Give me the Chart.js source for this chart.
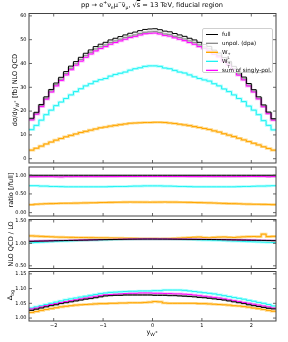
<!DOCTYPE html>
<html>
<head>
<meta charset="utf-8">
<script src="https://cdn.jsdelivr.net/npm/chart.js@4.4.1/dist/chart.umd.min.js"></script>
<style>
body { margin: 0; background: #fff; font-family: 'DejaVu Sans', sans-serif; }
#wrap { position: relative; width: 288px; height: 342px; overflow: hidden; }
canvas { position: absolute; left: 0; top: 0; }
.t { position: absolute; white-space: nowrap; color: #000; line-height: 1; }
.rot { transform: translate(-50%, -50%) rotate(-90deg); }
sub, sup { font-size: 70%; line-height: 0; }
.ss { display: inline-flex; flex-direction: column; font-size: 68%; line-height: 0.95; vertical-align: -0.4em; }
#leg { position: absolute; left: 202px; top: 28px; width: 71px; height: 45px; border: 0.8px solid #cfcfcf; border-radius: 2px;
  background: rgba(255,255,255,0.85); font-size: 5.6px; box-sizing: border-box; padding-top: 0.5px; }
.row { position: relative; height: 9px; line-height: 9px; padding-left: 19px; white-space: nowrap; }
.sw { position: absolute; left: 3px; top: 3.3px; width: 12px; height: 2.6px; }
.sw i { position: absolute; left: 0; right: 0; top: 0.8px; height: 1.1px; }
</style>
</head>
<body>
<div id="wrap">
  <canvas id="c1" width="288" height="342"></canvas>
  <canvas id="c2" width="288" height="342"></canvas>
  <canvas id="c3" width="288" height="342"></canvas>
  <canvas id="c4" width="288" height="342"></canvas>

  <div class="t" style="left:152px;top:1.5px;transform:translateX(-50%);font-size:6.6px;">pp → e<sup>+</sup>ν<sub>e</sub>μ<sup>−</sup>ν̄<sub>μ</sub>, √<span style="text-decoration:overline">s</span> = 13 TeV, fiducial region</div>
  <div class="t rot" style="left:14.5px;top:90px;font-size:6.6px;">dσ/dy<sub>W<sup>+</sup></sub> [fb] NLO QCD</div>
  <div class="t rot" style="left:10.5px;top:190px;font-size:6.6px;">ratio [/full]</div>
  <div class="t rot" style="left:10.5px;top:244px;font-size:6.6px;">NLO QCD / LO</div>
  <div class="t rot" style="left:9.5px;top:295px;font-size:6.6px;">Δ<sub>bg</sub></div>
  <div class="t" style="left:152px;top:329px;transform:translateX(-50%);font-size:6.6px;">y<sub>W<sup>+</sup></sub></div>

  <div id="leg">
    <div class="row"><span class="sw"><i style="background:#000"></i></span>full</div>
    <div class="row"><span class="sw" style="background:#d6d6d6"><i style="background:#8c8c8c"></i></span>unpol. (dpa)</div>
    <div class="row"><span class="sw" style="background:#ffd98c"><i style="background:#ffa500"></i></span>W<span class="ss"><span>+</span><span>L</span></span></div>
    <div class="row"><span class="sw" style="background:#b3ffff"><i style="background:#1ff2f2"></i></span>W<span class="ss"><span>+</span><span>T</span></span></div>
    <div class="row"><span class="sw" style="background:#ffb3ff"><i style="background:#ff00ff"></i></span>sum of singly-pol.</div>
  </div>
</div>

<script>
// bin edges of y_W+ (0.1 wide)
const binEdges = [-2.5, -2.4, -2.3, -2.2, -2.1, -2.0, -1.9, -1.8, -1.7, -1.6, -1.5, -1.4, -1.3, -1.2, -1.1, -1.0,
  -0.9, -0.8, -0.7, -0.6, -0.5, -0.4, -0.3, -0.2, -0.1, 0.0, 0.1, 0.2, 0.3, 0.4, 0.5, 0.6, 0.7, 0.8, 0.9, 1.0,
  1.1, 1.2, 1.3, 1.4, 1.5, 1.6, 1.7, 1.8, 1.9, 2.0, 2.1, 2.2, 2.3, 2.4, 2.5];
const xTicks = [-2, -1, 0, 1, 2];

// dsigma/dy [fb], NLO QCD
const full = [17.0, 19.5, 22.8, 26.0, 29.1, 31.8, 34.2, 36.6, 38.9, 40.8, 42.6, 44.3, 45.7, 47.1, 48.1, 48.9, 49.9,
  50.6, 51.3, 52.0, 52.7, 53.2, 53.8, 54.3, 54.5, 54.6, 54.2, 53.6, 53.3, 52.6, 52.0, 51.4, 50.6, 49.9, 48.9, 48.0,
  47.2, 45.6, 44.4, 42.5, 40.9, 38.8, 36.4, 34.3, 31.6, 29.0, 26.0, 22.6, 19.6, 16.8];
const unpol = [16.6, 19.1, 22.3, 25.4, 28.5, 31.1, 33.4, 35.8, 38.0, 39.9, 41.7, 43.3, 44.7, 46.1, 47.0, 47.8, 48.8,
  49.5, 50.2, 50.9, 51.5, 52.0, 52.6, 53.1, 53.3, 53.4, 53.0, 52.4, 52.1, 51.4, 50.9, 50.3, 49.5, 48.8, 47.8, 46.9,
  46.2, 44.6, 43.4, 41.6, 40.0, 37.9, 35.6, 33.5, 30.9, 28.4, 25.4, 22.1, 19.2, 16.4];
const polL = [3.6, 4.4, 5.3, 6.2, 7.0, 7.8, 8.5, 9.2, 9.8, 10.4, 11.0, 11.5, 12.0, 12.5, 13.0, 13.3, 13.7, 14.0, 14.3,
  14.6, 14.9, 15.0, 15.1, 15.2, 15.2, 15.3, 15.3, 15.2, 15.0, 14.8, 14.5, 14.2, 13.9, 13.5, 13.1, 12.7, 12.3, 11.7,
  11.2, 10.5, 9.9, 9.3, 8.6, 7.9, 7.2, 6.5, 5.8, 5.0, 4.3, 3.6];
const polT = [12.2, 14.0, 16.2, 18.5, 20.4, 22.3, 23.8, 25.3, 26.8, 28.2, 29.4, 30.6, 31.5, 32.5, 33.2, 33.7, 34.7,
  35.4, 35.9, 36.4, 37.2, 37.8, 38.2, 38.8, 39.0, 39.0, 38.8, 38.1, 37.8, 37.1, 36.4, 36.0, 35.2, 34.4, 33.7, 33.1,
  32.6, 31.5, 30.6, 29.3, 28.2, 26.8, 25.3, 24.0, 22.1, 20.4, 18.5, 16.0, 14.0, 12.1];
const sumPol = [16.3, 18.7, 21.9, 25.0, 28.0, 30.6, 32.9, 35.2, 37.4, 39.3, 41.0, 42.6, 44.0, 45.3, 46.3, 47.1, 48.1,
  48.8, 49.5, 50.2, 50.9, 51.4, 52.0, 52.5, 52.7, 52.8, 52.4, 51.8, 51.5, 50.8, 50.2, 49.6, 48.8, 48.1, 47.1, 46.3,
  45.5, 43.9, 42.8, 40.9, 39.4, 37.4, 35.1, 33.1, 30.5, 28.0, 25.1, 21.8, 18.9, 16.2];

// ratio to full
const rFull = [1, 1, 1, 1, 1, 1, 1, 1, 1, 1, 1, 1, 1, 1, 1, 1, 1, 1, 1, 1, 1, 1, 1, 1, 1,
  1, 1, 1, 1, 1, 1, 1, 1, 1, 1, 1, 1, 1, 1, 1, 1, 1, 1, 1, 1, 1, 1, 1, 1, 1];
const rUnpol = [0.976, 0.979, 0.978, 0.977, 0.979, 0.978, 0.977, 0.978, 0.977, 0.978, 0.979, 0.977, 0.978, 0.979,
  0.977, 0.978, 0.978, 0.978, 0.979, 0.979, 0.977, 0.977, 0.978, 0.978, 0.978, 0.978, 0.978, 0.978, 0.977, 0.977,
  0.979, 0.979, 0.978, 0.978, 0.978, 0.977, 0.979, 0.978, 0.977, 0.979, 0.978, 0.977, 0.978, 0.977, 0.978, 0.979,
  0.977, 0.978, 0.980, 0.976];
const rL = [0.212, 0.226, 0.232, 0.238, 0.241, 0.245, 0.249, 0.251, 0.252, 0.255, 0.258, 0.260, 0.263, 0.265, 0.270,
  0.272, 0.275, 0.277, 0.279, 0.281, 0.283, 0.282, 0.281, 0.280, 0.279, 0.280, 0.282, 0.284, 0.281, 0.281, 0.279,
  0.276, 0.275, 0.271, 0.268, 0.265, 0.261, 0.257, 0.252, 0.247, 0.242, 0.240, 0.236, 0.230, 0.228, 0.224, 0.223,
  0.221, 0.219, 0.214];
const rT = [0.72, 0.72, 0.71, 0.71, 0.70, 0.70, 0.695, 0.69, 0.69, 0.69, 0.69, 0.69, 0.69, 0.69, 0.69, 0.69, 0.695,
  0.70, 0.70, 0.70, 0.705, 0.71, 0.71, 0.715, 0.715, 0.715, 0.715, 0.71, 0.71, 0.705, 0.70, 0.70, 0.695, 0.69, 0.69,
  0.69, 0.69, 0.69, 0.69, 0.69, 0.69, 0.69, 0.695, 0.70, 0.70, 0.705, 0.71, 0.71, 0.715, 0.72];
const rSum = [0.959, 0.959, 0.961, 0.962, 0.962, 0.958, 0.955, 0.962, 0.961, 0.963, 0.962, 0.962, 0.963, 0.962, 0.963,
  0.963, 0.964, 0.964, 0.965, 0.965, 0.966, 0.966, 0.967, 0.967, 0.967, 0.967, 0.967, 0.966, 0.966, 0.966, 0.965,
  0.965, 0.964, 0.964, 0.963, 0.965, 0.964, 0.963, 0.964, 0.962, 0.963, 0.964, 0.964, 0.965, 0.965, 0.966, 0.965,
  0.965, 0.958, 0.964];

// NLO QCD / LO
const kFull = [1.045, 1.048, 1.050, 1.052, 1.055, 1.058, 1.060, 1.062, 1.065, 1.067, 1.070, 1.072, 1.075, 1.077,
  1.080, 1.082, 1.084, 1.086, 1.088, 1.090, 1.092, 1.093, 1.094, 1.095, 1.095, 1.095, 1.094, 1.094, 1.093, 1.092,
  1.091, 1.090, 1.089, 1.088, 1.087, 1.086, 1.085, 1.084, 1.082, 1.080, 1.078, 1.076, 1.074, 1.072, 1.070, 1.068,
  1.066, 1.064, 1.062, 1.060];
const kUnpol = [1.043, 1.046, 1.049, 1.051, 1.054, 1.057, 1.059, 1.061, 1.064, 1.066, 1.069, 1.071, 1.074, 1.076,
  1.079, 1.081, 1.083, 1.085, 1.087, 1.089, 1.091, 1.092, 1.093, 1.094, 1.094, 1.094, 1.093, 1.093, 1.092, 1.091,
  1.090, 1.089, 1.088, 1.087, 1.086, 1.085, 1.084, 1.083, 1.081, 1.079, 1.077, 1.075, 1.073, 1.071, 1.069, 1.067,
  1.065, 1.063, 1.061, 1.058];
const kL = [1.165, 1.160, 1.155, 1.150, 1.145, 1.140, 1.137, 1.135, 1.133, 1.131, 1.130, 1.128, 1.126, 1.125, 1.123,
  1.122, 1.120, 1.118, 1.116, 1.114, 1.112, 1.110, 1.108, 1.106, 1.105, 1.104, 1.103, 1.104, 1.106, 1.110, 1.116,
  1.122, 1.130, 1.136, 1.140, 1.128, 1.124, 1.132, 1.138, 1.142, 1.135, 1.130, 1.138, 1.145, 1.150, 1.152, 1.148,
  1.205, 1.150, 1.155];
const kT = [1.012, 1.018, 1.024, 1.030, 1.035, 1.040, 1.045, 1.049, 1.053, 1.057, 1.061, 1.064, 1.067, 1.070, 1.073,
  1.076, 1.078, 1.081, 1.083, 1.085, 1.087, 1.089, 1.090, 1.091, 1.092, 1.092, 1.091, 1.090, 1.089, 1.087, 1.085,
  1.083, 1.081, 1.078, 1.075, 1.072, 1.069, 1.066, 1.062, 1.058, 1.054, 1.050, 1.046, 1.042, 1.038, 1.034, 1.030,
  1.026, 1.022, 1.018];
const kSum = [1.048, 1.051, 1.053, 1.055, 1.058, 1.061, 1.063, 1.065, 1.068, 1.070, 1.073, 1.075, 1.078, 1.080,
  1.083, 1.085, 1.087, 1.089, 1.091, 1.093, 1.095, 1.096, 1.097, 1.098, 1.098, 1.098, 1.097, 1.097, 1.096, 1.095,
  1.094, 1.093, 1.092, 1.091, 1.090, 1.089, 1.088, 1.087, 1.085, 1.083, 1.081, 1.079, 1.077, 1.075, 1.073, 1.071,
  1.069, 1.067, 1.065, 1.062];

// Delta_bg
const dFull = [1.026, 1.030, 1.034, 1.038, 1.042, 1.045, 1.049, 1.052, 1.055, 1.058, 1.061, 1.064, 1.066, 1.069,
  1.072, 1.075, 1.076, 1.077, 1.077, 1.078, 1.078, 1.078, 1.078, 1.078, 1.078, 1.077, 1.077, 1.077, 1.076, 1.076,
  1.075, 1.074, 1.073, 1.072, 1.070, 1.069, 1.067, 1.065, 1.063, 1.061, 1.058, 1.055, 1.052, 1.049, 1.045, 1.042,
  1.039, 1.036, 1.033, 1.031];
const dUnpol = [1.028, 1.032, 1.036, 1.040, 1.044, 1.047, 1.051, 1.054, 1.057, 1.060, 1.063, 1.066, 1.068, 1.071,
  1.074, 1.077, 1.078, 1.079, 1.079, 1.080, 1.080, 1.080, 1.080, 1.080, 1.080, 1.079, 1.079, 1.079, 1.078, 1.078,
  1.077, 1.076, 1.075, 1.074, 1.072, 1.071, 1.069, 1.067, 1.065, 1.063, 1.060, 1.057, 1.054, 1.051, 1.047, 1.044,
  1.041, 1.038, 1.035, 1.033];
const dL = [1.019, 1.022, 1.026, 1.029, 1.032, 1.035, 1.038, 1.040, 1.042, 1.044, 1.045, 1.046, 1.047, 1.048, 1.049,
  1.049, 1.050, 1.050, 1.051, 1.051, 1.052, 1.052, 1.052, 1.053, 1.054, 1.056, 1.055, 1.051, 1.050, 1.050, 1.050,
  1.050, 1.050, 1.050, 1.049, 1.049, 1.048, 1.047, 1.046, 1.045, 1.044, 1.042, 1.041, 1.039, 1.037, 1.034, 1.032,
  1.029, 1.026, 1.023];
const dT = [1.034, 1.038, 1.042, 1.046, 1.050, 1.054, 1.058, 1.062, 1.065, 1.068, 1.071, 1.074, 1.077, 1.080, 1.083,
  1.085, 1.087, 1.088, 1.089, 1.090, 1.091, 1.091, 1.092, 1.092, 1.092, 1.093, 1.093, 1.095, 1.095, 1.095, 1.095,
  1.094, 1.092, 1.090, 1.088, 1.086, 1.084, 1.082, 1.079, 1.076, 1.073, 1.070, 1.067, 1.064, 1.060, 1.057, 1.053,
  1.050, 1.046, 1.041];
const dSum = [1.031, 1.034, 1.038, 1.042, 1.046, 1.049, 1.053, 1.056, 1.059, 1.062, 1.065, 1.068, 1.071, 1.074,
  1.077, 1.079, 1.080, 1.081, 1.082, 1.083, 1.084, 1.084, 1.085, 1.085, 1.085, 1.084, 1.084, 1.083, 1.083, 1.082,
  1.082, 1.081, 1.080, 1.078, 1.076, 1.074, 1.072, 1.070, 1.068, 1.065, 1.062, 1.059, 1.056, 1.053, 1.050, 1.047,
  1.044, 1.041, 1.038, 1.034];

const yTicksMain = [0, 10, 20, 30, 40, 50, 60];
const yTicksRatio = [0, 0.5, 1.0];
const yTicksK = [0.5, 1.0, 1.5];
const yTicksD = [1.00, 1.05, 1.10, 1.15];

const C = {
  full: '#000000', unpol: '#8c8c8c', unpolBand: '#d6d6d6',
  L: '#ffa500', LBand: '#ffd98c', T: '#1ff2f2', TBand: '#b3ffff', S: '#ff00ff', SBand: '#ffb3ff'
};

Chart.defaults.font.family = "'DejaVu Sans', sans-serif";
Chart.defaults.font.size = 5;
Chart.defaults.color = '#000';

function hist(vals) {
  return binEdges.map((x, i) => ({ x: x, y: vals[Math.min(i, vals.length - 1)] }));
}
function line(vals, color, width, order) {
  return { data: hist(vals), borderColor: color, borderWidth: width, stepped: true, pointRadius: 0,
    fill: false, order: order, borderJoinStyle: 'miter' };
}
function set(f, u, l, t, s) {
  return [
    line(u, C.unpolBand, 2.6, 20), line(l, C.LBand, 2.6, 20), line(t, C.TBand, 2.6, 20), line(s, C.SBand, 2.6, 20),
    line(l, C.L, 1, 6), line(t, C.T, 1, 5), line(u, C.unpol, 1, 4), line(s, C.S, 1, 3), line(f, C.full, 1, 1)
  ];
}

const framePlugin = {
  id: 'frame',
  afterDatasetsDraw(chart, args, opts) {
    const { ctx, chartArea: a, scales } = chart;
    ctx.save();
    ctx.strokeStyle = '#444';
    ctx.lineWidth = 0.8;
    ctx.beginPath();
    xTicks.forEach(v => {
      const p = scales.x.getPixelForValue(v);
      ctx.moveTo(p, a.bottom); ctx.lineTo(p, a.bottom - 3);
      ctx.moveTo(p, a.top); ctx.lineTo(p, a.top + 3);
    });
    opts.yt.forEach(v => {
      const p = scales.y.getPixelForValue(v);
      ctx.moveTo(a.left, p); ctx.lineTo(a.left + 3, p);
      ctx.moveTo(a.right, p); ctx.lineTo(a.right - 3, p);
    });
    ctx.stroke();
    ctx.lineWidth = 1;
    ctx.strokeRect(a.left, a.top, a.right - a.left, a.bottom - a.top);
    ctx.restore();
  }
};

function panel(id, top, bottom, yMin, yMax, yt, fmt, datasets, showX) {
  return new Chart(document.getElementById(id), {
    type: 'line',
    data: { datasets: datasets },
    plugins: [framePlugin],
    options: {
      responsive: false, animation: false, devicePixelRatio: 1, events: [],
      layout: { padding: { left: 0, right: 12, top: top, bottom: showX ? 342 - bottom - 12 : 342 - bottom } },
      plugins: { legend: { display: false }, tooltip: { enabled: false }, frame: { yt: yt } },
      scales: {
        x: {
          type: 'linear', min: -2.5, max: 2.5, display: showX,
          grid: { display: false, drawTicks: false, tickLength: 0 }, border: { display: false },
          afterFit: s => { s.height = showX ? 12 : 0; },
          afterBuildTicks: s => { s.ticks = xTicks.map(v => ({ value: v })); },
          ticks: { padding: 1.5, color: '#000', callback: v => (v < 0 ? '\u2212' + Math.abs(v) : String(v)) }
        },
        y: {
          min: yMin, max: yMax,
          grid: { display: false, drawTicks: false, tickLength: 0 }, border: { display: false },
          afterFit: s => { s.width = 29; },
          afterBuildTicks: s => { s.ticks = yt.map(v => ({ value: v })); },
          ticks: { padding: 2.5, color: '#000', callback: fmt }
        }
      }
    }
  });
}

panel('c1', 13.5, 163, -1.8, 61, yTicksMain, v => String(v), set(full, unpol, polL, polT, sumPol), false);
panel('c2', 167, 216, -0.09, 1.22, yTicksRatio, v => v.toFixed(2), set(rFull, rUnpol, rL, rT, rSum), false);
panel('c3', 219.5, 268.5, 0.44, 1.53, yTicksK, v => v.toFixed(2), set(kFull, kUnpol, kL, kT, kSum), false);
panel('c4', 271.5, 321, 0.99, 1.158, yTicksD, v => v.toFixed(2), set(dFull, dUnpol, dL, dT, dSum), true);
</script>
</body>
</html>
